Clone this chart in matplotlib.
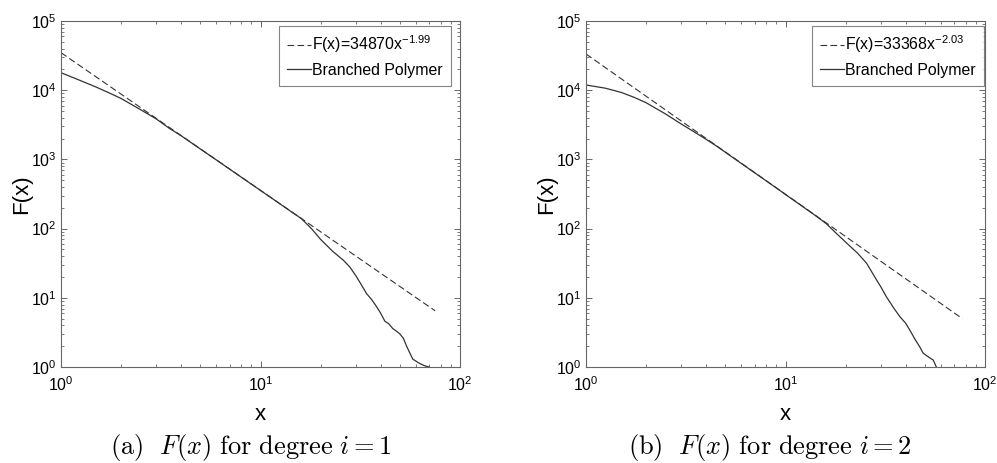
import matplotlib.pyplot as plt
from matplotlib.ticker import LogLocator, NullFormatter

plt.rcParams['font.family'] = ['Liberation Sans', 'DejaVu Sans']
plt.rcParams['mathtext.fontset'] = 'custom'
plt.rcParams['mathtext.rm'] = 'Liberation Sans'
plt.rcParams['mathtext.it'] = 'Liberation Sans:italic'

# Данные
# (a) степень i = 1
x_a = [1, 1.25, 1.5, 1.75, 2.0, 2.5, 3.0, 3.5, 4, 5, 6, 8, 10, 12, 14, 16, 18, 20,
       23, 26, 28, 30, 32, 34, 36, 38, 40, 42, 44, 46, 48, 50, 52, 54, 56, 58, 62, 66, 70]
y_a = [17900, 13800, 11100, 9100, 7600, 5250, 3850, 2800, 2200, 1410, 985, 555, 356,
       248, 182, 140, 100, 70, 47, 35, 28, 21, 15.5, 11.5, 9.5, 7.6, 6.0, 4.6, 4.2, 3.6,
       3.3, 3.0, 2.6, 2.0, 1.6, 1.3, 1.15, 1.05, 1.0]
fit_a_x = [1, 75]
fit_a_y = [34870, 6.5]
fit_a_label = 'F(x)=34870x$^{-1.99}$'

# (b) степень i = 2
x_b = [1, 1.25, 1.5, 1.75, 2.0, 2.5, 3.0, 3.5, 4, 4.5, 5, 6, 8, 10, 12, 14, 16, 18,
       20, 21, 23, 25.5, 28.6, 30, 32, 35, 37.5, 40, 42, 45, 47, 49, 52, 55, 57]
y_b = [11900, 10700, 9300, 7850, 6600, 4550, 3250, 2480, 1950, 1565, 1265, 875, 490,
       311, 215, 157, 118, 85, 64, 56, 44, 31.5, 18.1, 14.5, 10.4, 7.0, 5.3, 4.3, 3.4,
       2.4, 1.97, 1.58, 1.4, 1.26, 1.0]
fit_b_x = [1, 77]
fit_b_y = [33368, 5.0]
fit_b_label = 'F(x)=33368x$^{-2.03}$'

captions = [r'$\mathrm{(a)}\ \ F(x)\ \mathrm{for\ degree}\ i = 1$',
            r'$\mathrm{(b)}\ \ F(x)\ \mathrm{for\ degree}\ i = 2$']

line_color = '#333333'
frame_color = '#666666'


def draw_panel(ax, x, y, fx, fy, flabel, legend_x):
    ax.plot(fx, fy, color=line_color, linewidth=0.8, linestyle=(0, (6, 3)), label=flabel)
    ax.plot(x, y, color=line_color, linewidth=0.9, label='Branched Polymer')
    ax.set_xscale('log')
    ax.set_yscale('log')
    ax.set_xlim(1, 100)
    ax.set_ylim(1, 1e5)

    ax.xaxis.set_major_locator(LogLocator(base=10, numticks=10))
    ax.yaxis.set_major_locator(LogLocator(base=10, numticks=10))
    ax.xaxis.set_minor_locator(LogLocator(base=10, subs=range(2, 10), numticks=20))
    ax.yaxis.set_minor_locator(LogLocator(base=10, subs=range(2, 10), numticks=20))
    ax.xaxis.set_minor_formatter(NullFormatter())
    ax.yaxis.set_minor_formatter(NullFormatter())

    ax.tick_params(which='both', direction='in', top=True, right=True,
                   color=frame_color, labelsize=11.5)
    ax.tick_params(which='major', length=4, width=0.7)
    ax.tick_params(which='minor', length=2.2, width=0.6)
    ax.tick_params(axis='x', which='major', pad=6)
    ax.tick_params(axis='y', which='major', pad=3)
    for s in ax.spines.values():
        s.set_color(frame_color)
        s.set_linewidth(0.8)

    ax.set_xlabel('x', fontsize=16, labelpad=7)
    ax.set_ylabel('F(x)', fontsize=16, labelpad=-1)

    leg = ax.legend(loc='upper right', bbox_to_anchor=(legend_x, 0.986),
                    borderaxespad=0, fancybox=False, fontsize=11.4,
                    handlelength=1.5, handletextpad=0.1, borderpad=0.5,
                    labelspacing=0.45)
    leg.get_frame().set_edgecolor(frame_color)
    leg.get_frame().set_linewidth(0.8)


fig = plt.figure(figsize=(9.97, 4.63), dpi=100)
ax1 = fig.add_axes([0.0612, 0.2073, 0.4002, 0.7473])
ax2 = fig.add_axes([0.5878, 0.2073, 0.4002, 0.7473])

draw_panel(ax1, x_a, y_a, fit_a_x, fit_a_y, fit_a_label, 0.977)
draw_panel(ax2, x_b, y_b, fit_b_x, fit_b_y, fit_b_label, 0.997)

# Подписи под графиками (в стиле LaTeX)
fig.text(251 / 997, 0.033, captions[0], ha='center', va='center', fontsize=19,
         math_fontfamily='cm')
fig.text(770 / 997, 0.033, captions[1], ha='center', va='center', fontsize=19,
         math_fontfamily='cm')

fig.savefig('out.png', dpi=100)
